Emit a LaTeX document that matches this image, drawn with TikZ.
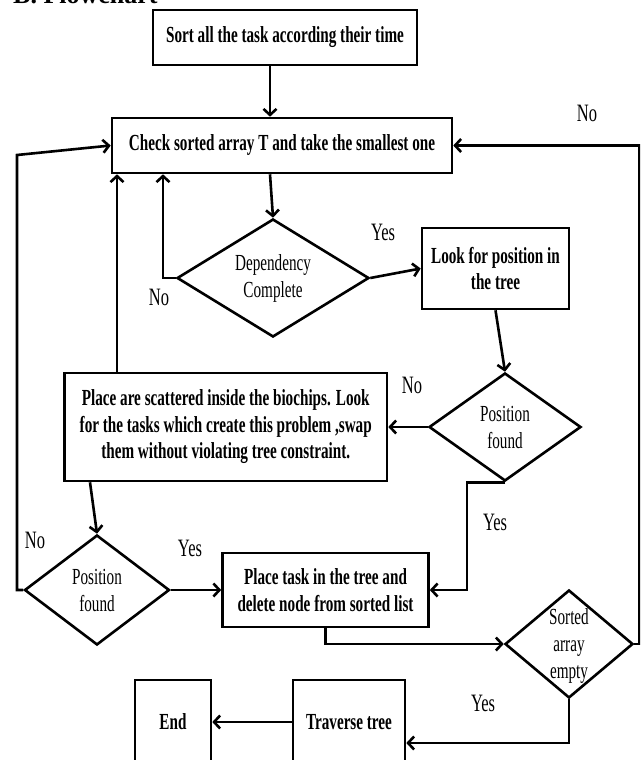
\documentclass[tikz,border=0pt]{standalone}
\usepackage{fontspec}
\setmainfont{Liberation Serif}[FakeStretch=0.66]
\newfontfamily\headfont{Liberation Serif}
\usetikzlibrary{shapes.geometric,arrows.meta,calc}
\tikzset{
  box/.style={draw,line width=2.6pt,rectangle,inner sep=0pt,align=center,font=\fontsize{23}{26.5}\selectfont\bfseries},
  dia/.style={draw,line width=2.6pt,diamond,inner sep=0pt},
  dtext/.style={align=center,font=\fontsize{23}{27}\selectfont},
  lbl/.style={font=\fontsize{25}{28}\selectfont},
  arr/.style={line width=2.6pt,-{Straight Barb[length=6pt,width=13pt]}},
}
\begin{document}
\begin{tikzpicture}[x=1pt,y=-1pt]
\useasboundingbox (0,0) rectangle (640,760);
\clip (0,0) rectangle (640,760);
\fill[white] (0,0) rectangle (640,760);
\node[anchor=base west,inner sep=0pt,font=\headfont\fontsize{26}{30}\selectfont\bfseries] (head) at (13,4) {B. Flowchart};
% boxes
\node[box,minimum width=264pt,minimum height=55pt] (sort) at (285,37.5) {Sort all the task according their time};
\node[box,minimum width=340pt,minimum height=55pt] (check) at (282,145.5) {Check sorted array T and take the smallest one};
\node[box,minimum width=147pt,minimum height=81pt] (look) at (495.5,268.5) {Look for position in\\the tree};
\node[box,minimum width=322.5pt,minimum height=108pt] (big) at (225.75,427) {Place are scattered inside the biochips. Look\\for the tasks which create this problem ,swap\\them without violating tree constraint.};
\node[box,minimum width=206pt,minimum height=74pt] (place) at (325.5,590) {Place task in the tree and\\delete node from sorted list};
\node[box,minimum width=112pt,minimum height=84pt] (trav) at (349,722) {Traverse tree};
\node[box,minimum width=76pt,minimum height=84pt] (end) at (173,722) {End};
% diamonds
\node[dia,minimum width=192pt,minimum height=118pt,label={[dtext]center:Dependency\\Complete}] (dep) at (273,278) {};
\node[dia,minimum width=152pt,minimum height=108pt,label={[dtext]center:Position\\found}] (pos1) at (505,427) {};
\node[dia,minimum width=145pt,minimum height=110pt,label={[dtext]center:Position\\found}] (pos2) at (97,590) {};
\node[dia,minimum width=128pt,minimum height=108pt,label={[dtext,yshift=-2pt]center:Sorted\\array\\empty}] (sorted) at (569,644) {};
% connectors
\coordinate (lb) at (17,155);
\draw[arr] ([xshift=-15pt]sort.south) -- ([xshift=-12pt]check.north);
\draw[arr] ([xshift=-12pt]check.south) -- (dep.north);
\draw[arr] (dep.east) -- (look.west);
\draw[arr] (dep.west) -| ([xshift=-119pt]check.south);
\draw[arr] (look.south) -- (pos1.north);
\draw[arr] (pos1.west) -- (big.east);
\draw[arr] ([xshift=-108.75pt]big.north) -- ([xshift=-108.75pt]big.north |- check.south);
\draw[arr] ([xshift=-135.75pt]big.south) -- (pos2.north);
\draw[arr] (pos2.east) -- (place.west);
\draw[arr] (pos2.west) -| (lb) -- (check.west);
\draw[arr] (pos1.south) -- ++(-38,0) |- (place.east);
\draw[arr] (place.south) |- (sorted.west);
\draw[arr] (sorted.east) -- ++(5,0) |- (check.east);
\draw[arr] (sorted.south) |- ([yshift=-21pt]trav.east);
\draw[arr] (trav.west) -- (end.east);
% labels
\node[lbl] (l1) at (587,113) {No};
\node[lbl] (l2) at (383,232) {Yes};
\node[lbl] (l3) at (159,297) {No};
\node[lbl] (l4) at (412,385) {No};
\node[lbl] (l5) at (495,522) {Yes};
\node[lbl] (l6) at (35,540) {No};
\node[lbl] (l7) at (190,548) {Yes};
\node[lbl] (l8) at (483,703) {Yes};
\end{tikzpicture}
\end{document}
